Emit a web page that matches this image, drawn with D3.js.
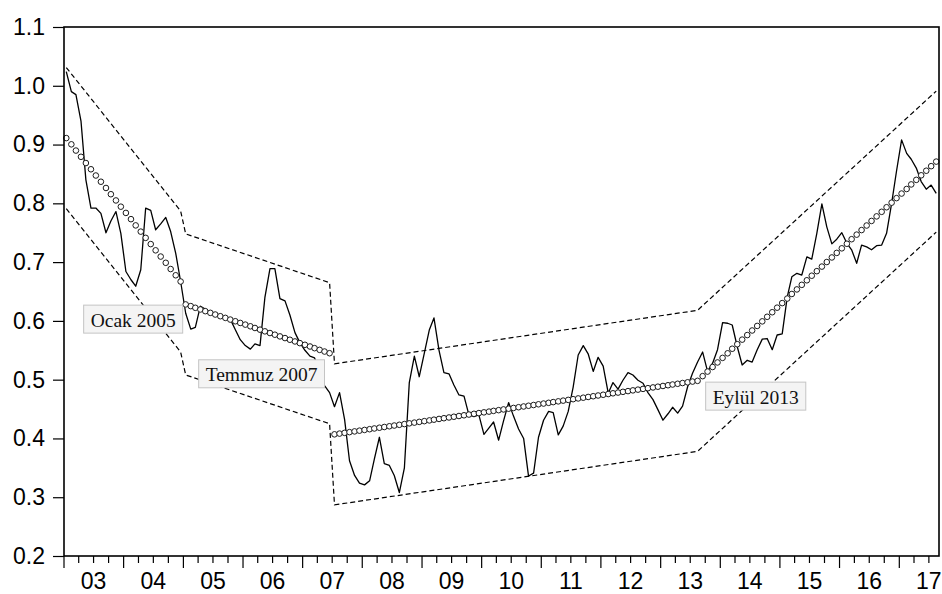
<!DOCTYPE html>
<html>
<head>
<meta charset="utf-8">
<script src="https://cdn.jsdelivr.net/npm/d3@7"></script>
<style>
  body { margin: 0; background: #fff; }
  svg { display: block; }
</style>
</head>
<body>
<svg id="chart" width="942" height="594"></svg>
<script>
// Monthly series, 2003M1 - 2017M8
const seriesStart = [2003, 1];
const seriesValues = [
  1.024, 0.990, 0.985, 0.940, 0.840, 0.792, 0.792, 0.783, 0.750, 0.770, 0.786, 0.749,
  0.684, 0.670, 0.659, 0.687, 0.792, 0.788, 0.755, 0.765, 0.776, 0.752, 0.715, 0.667,
  0.613, 0.586, 0.589, 0.625, 0.620, 0.614, 0.610, 0.607, 0.605, 0.603, 0.585, 0.568,
  0.558, 0.552, 0.561, 0.558, 0.640, 0.689, 0.689, 0.638, 0.634, 0.610, 0.580, 0.563,
  0.550, 0.540, 0.537, 0.515, 0.490, 0.478, 0.454, 0.478, 0.432, 0.362, 0.337, 0.324,
  0.321, 0.328, 0.365, 0.402, 0.357, 0.354, 0.337, 0.308, 0.350, 0.495, 0.540, 0.505,
  0.545, 0.585, 0.605, 0.550, 0.512, 0.510, 0.491, 0.474, 0.472, 0.440, 0.437, 0.440,
  0.407, 0.418, 0.428, 0.397, 0.430, 0.461, 0.438, 0.416, 0.400, 0.336, 0.341, 0.402,
  0.431, 0.446, 0.444, 0.406, 0.421, 0.446, 0.487, 0.542, 0.558, 0.544, 0.514, 0.538,
  0.523, 0.477, 0.495, 0.484, 0.499, 0.512, 0.508, 0.499, 0.494, 0.478, 0.466, 0.449,
  0.431, 0.442, 0.453, 0.443, 0.455, 0.488, 0.511, 0.530, 0.547, 0.514, 0.528, 0.551,
  0.597, 0.596, 0.593, 0.556, 0.525, 0.533, 0.530, 0.551, 0.569, 0.570, 0.551, 0.576,
  0.578, 0.641, 0.675, 0.681, 0.678, 0.709, 0.705, 0.749, 0.799, 0.760, 0.731, 0.739,
  0.750, 0.732, 0.721, 0.698, 0.729, 0.726, 0.721, 0.728, 0.729, 0.749, 0.800, 0.855,
  0.908, 0.885, 0.875, 0.860, 0.837, 0.824, 0.831, 0.817
];

// Segmented linear trend: first and last month index of each regime
const segmentStart = [0, 24, 54, 128];
const segmentEnd   = [23, 53, 127, 175];
const trendFirst   = [0.911, 0.628, 0.407, 0.506];
const trendLast    = [0.667, 0.545, 0.498, 0.871];
const bandHalfWidth = 0.12;

// Break dates and their annotations
const breakLabels = ["Ocak 2005", "Temmuz 2007", "Eylül 2013"];
const breakSegment = [1, 2, 3];

// Axes
const yTicks = [0.2, 0.3, 0.4, 0.5, 0.6, 0.7, 0.8, 0.9, 1.0, 1.1];
const yearLabels = ["03", "04", "05", "06", "07", "08", "09", "10", "11", "12", "13", "14", "15", "16", "17"];

// ---------------------------------------------------------------
const W = 942, H = 594;
const margin = { left: 64, top: 27, right: 3, bottom: 38 };
const svg = d3.select("#chart");

const monthDate = i => new Date(seriesStart[0], seriesStart[1] - 1 + i, 15);
const x = d3.scaleTime()
  .domain([new Date(seriesStart[0], 0, 1), new Date(seriesStart[0], seriesStart[1] - 1 + seriesValues.length, 1)])
  .range([margin.left, W - margin.right]);
const y = d3.scaleLinear()
  .domain([yTicks[0], yTicks[yTicks.length - 1]])
  .range([H - margin.bottom, margin.top]);

const plot = svg.append("g");

// Trend values per segment
const trendPoints = [];
segmentStart.forEach((s, k) => {
  const fit = d3.scaleLinear().domain([s, segmentEnd[k]]).range([trendFirst[k], trendLast[k]]);
  for (let i = s; i <= segmentEnd[k]; i++) trendPoints.push({ i, v: fit(i), seg: k });
});

// Confidence band (upper and lower dashed), joined across breaks
const bandVertices = [];
segmentStart.forEach((s, k) => {
  bandVertices.push({ i: s, v: trendFirst[k] });
  bandVertices.push({ i: segmentEnd[k], v: trendLast[k] });
});
[1, -1].forEach(sign => {
  plot.append("path")
    .datum(bandVertices)
    .attr("fill", "none")
    .attr("stroke", "#000")
    .attr("stroke-width", 1.2)
    .attr("stroke-dasharray", "5,3")
    .attr("d", d3.line()
      .x(d => x(monthDate(d.i)))
      .y(d => y(d.v + sign * bandHalfWidth)));
});

// Observed series
plot.append("path")
  .datum(seriesValues)
  .attr("fill", "none")
  .attr("stroke", "#000")
  .attr("stroke-width", 1.3)
  .attr("stroke-linejoin", "round")
  .attr("d", d3.line()
    .x((d, i) => x(monthDate(i)))
    .y(d => y(d)));

// Trend markers
plot.append("g")
  .selectAll("circle")
  .data(trendPoints)
  .join("circle")
  .attr("cx", d => x(monthDate(d.i)))
  .attr("cy", d => y(d.v))
  .attr("r", 2.8)
  .attr("fill", "#fff")
  .attr("stroke", "#1a1a1a")
  .attr("stroke-width", 1);

// Frame
svg.append("rect")
  .attr("x", margin.left)
  .attr("y", margin.top)
  .attr("width", W - margin.left - margin.right)
  .attr("height", H - margin.top - margin.bottom)
  .attr("fill", "none")
  .attr("stroke", "#000")
  .attr("stroke-width", 1.6);

// Y axis
const yAxis = svg.append("g")
  .attr("transform", `translate(${margin.left},0)`)
  .call(d3.axisLeft(y).tickValues(yTicks).tickFormat(d3.format(".1f")).tickSize(11).tickSizeOuter(0).tickPadding(8));
yAxis.select(".domain").remove();
yAxis.selectAll("line").attr("stroke", "#000").attr("stroke-width", 1.2);
yAxis.selectAll("text")
  .attr("font-family", "'Liberation Sans', Arial, sans-serif")
  .attr("font-size", 23)
  .attr("fill", "#000");

// X axis: year ticks, quarter minor ticks, labels centred within each year
const years = yearLabels.map((_, k) => seriesStart[0] + k);
const xAxis = svg.append("g").attr("transform", `translate(0,${H - margin.bottom})`);
const quarterDates = [];
years.forEach(yr => [0, 3, 6, 9].forEach(m => {
  const d = new Date(yr, m, 1);
  if (d <= x.domain()[1]) quarterDates.push(d);
}));
xAxis.selectAll("line.tick")
  .data(quarterDates)
  .join("line")
  .attr("class", "tick")
  .attr("x1", d => x(d)).attr("x2", d => x(d))
  .attr("y1", 0)
  .attr("y2", d => d.getMonth() === 0 ? 12 : 7)
  .attr("stroke", "#000")
  .attr("stroke-width", 1.2);
xAxis.selectAll("text")
  .data(yearLabels)
  .join("text")
  .attr("x", (d, k) => x(new Date(years[k], 6, 1)))
  .attr("y", 33)
  .attr("text-anchor", "middle")
  .attr("font-family", "'Liberation Sans', Arial, sans-serif")
  .attr("font-size", 23)
  .attr("fill", "#000")
  .text(d => d);

// Break annotations
const labelLayout = [
  { dy: 0.603, side: "end", gap: 3 },
  { dy: 0.510, side: "end", gap: 10 },
  { dy: 0.472, side: "start", gap: -3 }
];
breakLabels.forEach((txt, k) => {
  const seg = breakSegment[k];
  const bx = x(monthDate(segmentStart[seg]));
  const L = labelLayout[k];
  const g = svg.append("g");
  const t = g.append("text")
    .attr("font-family", "'Liberation Serif', 'Times New Roman', serif")
    .attr("font-size", 19.5)
    .attr("fill", "#111")
    .attr("dominant-baseline", "central")
    .text(txt);
  const tw = t.node().getComputedTextLength();
  const padX = 7, boxH = 28;
  const boxW = tw + 2 * padX;
  const left = L.side === "end" ? bx - L.gap - boxW : bx - L.gap;
  const cy = y(L.dy);
  g.insert("rect", "text")
    .attr("x", left).attr("y", cy - boxH / 2)
    .attr("width", boxW).attr("height", boxH)
    .attr("fill", "#f4f4f4")
    .attr("stroke", "#c4c4c4")
    .attr("stroke-width", 1);
  t.attr("x", left + padX).attr("y", cy + 1);
});
</script>
</body>
</html>
